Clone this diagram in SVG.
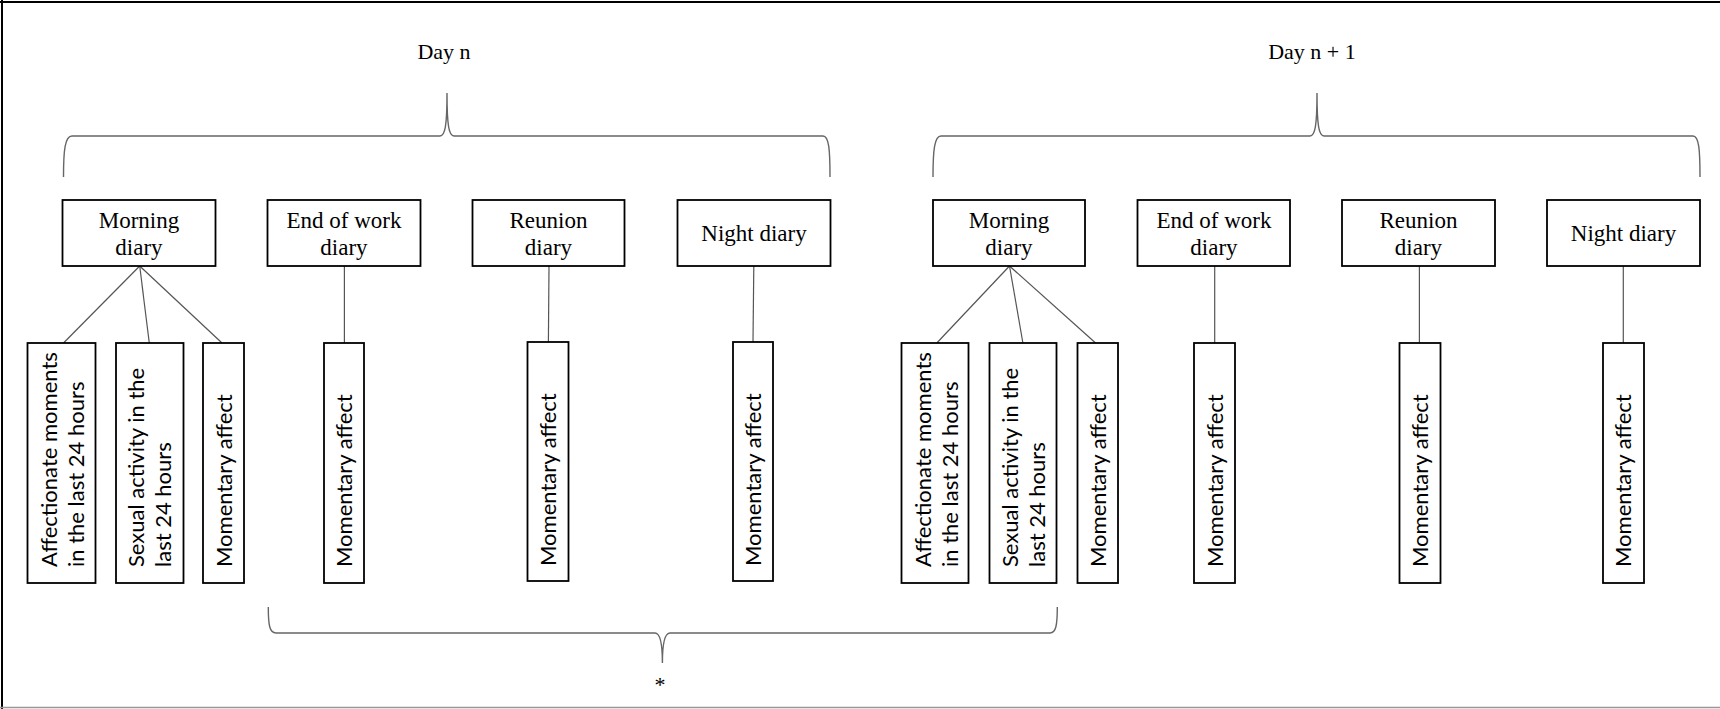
<svg xmlns="http://www.w3.org/2000/svg" width="1720" height="709" viewBox="0 0 1720 709">
<style>
.box{fill:#fff;stroke:#000;stroke-width:1.8}
.t{font-family:"Liberation Serif",serif;font-size:23px;fill:#000;text-anchor:middle}
.d{font-family:"Liberation Serif",serif;font-size:22px;fill:#000;text-anchor:middle}
.r{font-family:Lato,"Open Sans",sans-serif;font-size:22px;fill:#000;text-anchor:start}
.c{stroke:#555;stroke-width:1.2;fill:none}
.br{stroke:#666;stroke-width:1.4;fill:none}
</style>
<rect x="0" y="0" width="1720" height="709" fill="#fff"/>
<line x1="2" y1="0" x2="2" y2="709" stroke="#000" stroke-width="2"/>
<line x1="0" y1="2" x2="1720" y2="2" stroke="#000" stroke-width="2"/>
<line x1="0" y1="707.5" x2="1720" y2="707.5" stroke="#999" stroke-width="1.5"/>

<g id="braces">
<path class="br" d="M63.5 177 C63.5 150 65 136 72 136 L440 136 C445 136 447 126 447 93 C447 126 449 136 454 136 L823 136 C829 136 830 150 830 177"/>
<path class="br" d="M933 177 C933 150 934.5 136 941 136 L1310 136 C1315 136 1317 126 1317 93 C1317 126 1319 136 1324 136 L1693 136 C1699 136 1700 150 1700 177"/>
<path class="br" d="M268.3 607 C268.3 625 269.5 633 276 633 L655 633 C660 633 662.4 642 662.4 663 C662.4 642 665 633 670 633 L1050 633 C1056 633 1057.3 625 1057.3 607"/>
</g>
<g id="labels">
<text class="d" x="444" y="59">Day n</text>
<text class="d" x="1312" y="59">Day n + 1</text>
<text class="d" x="660" y="692">*</text>
</g>

<g id="connectors">
<line class="c" x1="139.7" y1="266" x2="63.5" y2="343"/>
<line class="c" x1="139.7" y1="266" x2="149.3" y2="343"/>
<line class="c" x1="139.7" y1="266" x2="222" y2="343"/>
<line class="c" x1="344.4" y1="266" x2="344.4" y2="343"/>
<line class="c" x1="549" y1="266" x2="548.4" y2="342"/>
<line class="c" x1="753.8" y1="266" x2="753" y2="342"/>
<line class="c" x1="1009.5" y1="266" x2="936.8" y2="343"/>
<line class="c" x1="1009.5" y1="266" x2="1022.9" y2="343"/>
<line class="c" x1="1009.5" y1="266" x2="1095.6" y2="343"/>
<line class="c" x1="1214.7" y1="266" x2="1214.7" y2="343"/>
<line class="c" x1="1419.4" y1="266" x2="1419.4" y2="343"/>
<line class="c" x1="1623.3" y1="266" x2="1623.3" y2="343"/>
</g>

<g id="n-morning"><rect class="box" x="62.5" y="200" width="153" height="66"/><text class="t" x="139" y="228">Morning</text><text class="t" x="139" y="255">diary</text></g>
<g id="n-endwork"><rect class="box" x="267.5" y="200" width="153" height="66"/><text class="t" x="344" y="228">End of work</text><text class="t" x="344" y="255">diary</text></g>
<g id="n-reunion"><rect class="box" x="472.5" y="200" width="152" height="66"/><text class="t" x="548.5" y="228">Reunion</text><text class="t" x="548.5" y="255">diary</text></g>
<g id="n-night"><rect class="box" x="677.5" y="200" width="153" height="66"/><text class="t" x="754" y="241">Night diary</text></g>

<g id="n1-morning"><rect class="box" x="933" y="200" width="152" height="66"/><text class="t" x="1009" y="228">Morning</text><text class="t" x="1009" y="255">diary</text></g>
<g id="n1-endwork"><rect class="box" x="1137.5" y="200" width="152.5" height="66"/><text class="t" x="1214" y="228">End of work</text><text class="t" x="1214" y="255">diary</text></g>
<g id="n1-reunion"><rect class="box" x="1342" y="200" width="153" height="66"/><text class="t" x="1418.5" y="228">Reunion</text><text class="t" x="1418.5" y="255">diary</text></g>
<g id="n1-night"><rect class="box" x="1547" y="200" width="153" height="66"/><text class="t" x="1623.5" y="241">Night diary</text></g>

<g id="n-affection"><rect class="box" x="27.5" y="343" width="68" height="240"/><text class="r" transform="translate(56.5,567) rotate(-90)">Affectionate moments</text><text class="r" transform="translate(83.5,567) rotate(-90)">in the last 24 hours</text></g>
<g id="n-sexual"><rect class="box" x="116" y="343" width="67.5" height="240"/><text class="r" transform="translate(144.3,567) rotate(-90)">Sexual activity in the</text><text class="r" transform="translate(171,567) rotate(-90)">last 24 hours</text></g>
<g id="n-ma1"><rect class="box" x="203" y="343" width="41" height="240"/><text class="r" transform="translate(231.5,567) rotate(-90)">Momentary affect</text></g>
<g id="n-ma2"><rect class="box" x="324" y="343" width="40" height="240"/><text class="r" transform="translate(351.7,567) rotate(-90)">Momentary affect</text></g>
<g id="n-ma3"><rect class="box" x="527.5" y="342" width="41" height="239"/><text class="r" transform="translate(556,566) rotate(-90)">Momentary affect</text></g>
<g id="n-ma4"><rect class="box" x="733" y="342" width="40" height="239"/><text class="r" transform="translate(760.9,566) rotate(-90)">Momentary affect</text></g>

<g id="n1-affection"><rect class="box" x="901.5" y="343" width="67" height="240"/><text class="r" transform="translate(930.5,567) rotate(-90)">Affectionate moments</text><text class="r" transform="translate(957.5,567) rotate(-90)">in the last 24 hours</text></g>
<g id="n1-sexual"><rect class="box" x="989.5" y="343" width="67" height="240"/><text class="r" transform="translate(1017.5,567) rotate(-90)">Sexual activity in the</text><text class="r" transform="translate(1044.5,567) rotate(-90)">last 24 hours</text></g>
<g id="n1-ma1"><rect class="box" x="1077.5" y="343" width="40.5" height="240"/><text class="r" transform="translate(1105.7,567) rotate(-90)">Momentary affect</text></g>
<g id="n1-ma2"><rect class="box" x="1194" y="343" width="41" height="240"/><text class="r" transform="translate(1222.5,567) rotate(-90)">Momentary affect</text></g>
<g id="n1-ma3"><rect class="box" x="1399.5" y="343" width="41" height="240"/><text class="r" transform="translate(1427.7,567) rotate(-90)">Momentary affect</text></g>
<g id="n1-ma4"><rect class="box" x="1603" y="343" width="41" height="240"/><text class="r" transform="translate(1631.2,567) rotate(-90)">Momentary affect</text></g>
</svg>
